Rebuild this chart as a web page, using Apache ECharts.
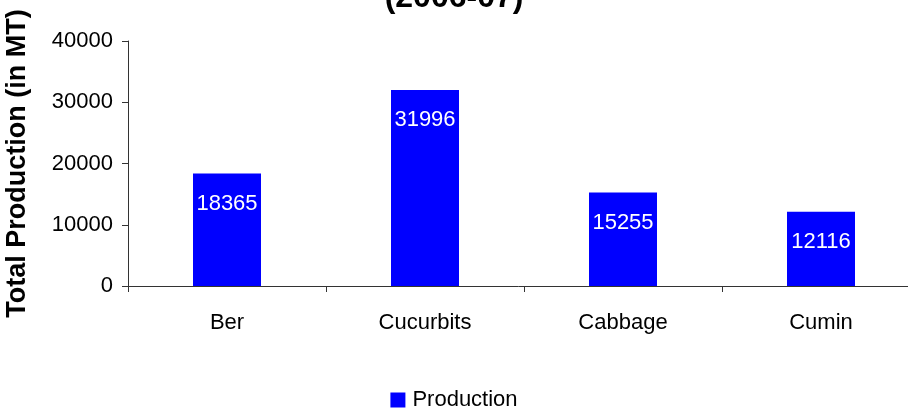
<!DOCTYPE html>
<html>
<head>
<meta charset="utf-8">
<script src="https://cdn.jsdelivr.net/npm/echarts@6/dist/echarts.min.js"></script>
<style>html,body{margin:0;padding:0;background:#fff;}#c{width:908px;height:408px;}</style>
</head>
<body>
<div id="c"></div>
<script>
var categories = ['Ber', 'Cucurbits', 'Cabbage', 'Cumin'];
var production = [18365, 31996, 15255, 12116];
var seriesName = 'Production';
var titleText = '(2006-07)';
var yAxisName = 'Total Production (in MT)';

var FONT = '"Liberation Sans", Arial, sans-serif';
var chart = echarts.init(document.getElementById('c'), null, {renderer: 'canvas'});
chart.setOption({
  animation: false,
  backgroundColor: '#ffffff',
  title: {
    text: titleText, left: 'center', top: -23,
    textStyle: {fontFamily: FONT, fontSize: 32, fontWeight: 'bold', color: '#000'}
  },
  grid: {left: 128, width: 792, top: 41, height: 245, containLabel: false, outerBoundsMode: 'none'},
  legend: {
    data: [seriesName], bottom: -3, left: 'center', itemWidth: 15, itemHeight: 15, icon: 'rect',
    padding: [0, 5, 0, 5],
    textStyle: {fontFamily: FONT, fontSize: 22, color: '#000', padding: [0, 0, 0, 2]}
  },
  xAxis: {
    type: 'category', data: categories,
    axisLine: {lineStyle: {color: '#333', width: 1}},
    axisTick: {show: true, length: 6, alignWithLabel: false, lineStyle: {color: '#333'}},
    axisLabel: {fontFamily: FONT, fontSize: 22, color: '#000', margin: 26}
  },
  yAxis: {
    type: 'value', min: 0, max: 40000, interval: 10000,
    name: yAxisName, nameLocation: 'middle', nameGap: 97, nameRotate: 90,
    nameTextStyle: {fontFamily: FONT, fontSize: 27, fontWeight: 'bold', color: '#000'},
    axisLine: {show: true, lineStyle: {color: '#333', width: 1}},
    axisTick: {show: true, length: 6, lineStyle: {color: '#333'}},
    splitLine: {show: false},
    axisLabel: {fontFamily: FONT, fontSize: 22, color: '#000', margin: 15, formatter: function (v) { return String(v); }}
  },
  series: [{
    name: seriesName, type: 'bar', data: production, barWidth: 68,
    itemStyle: {color: '#0000ff'},
    label: {show: true, position: 'insideTop', distance: 19, color: '#fff', fontFamily: FONT, fontSize: 22}
  }]
});
</script>
</body>
</html>
